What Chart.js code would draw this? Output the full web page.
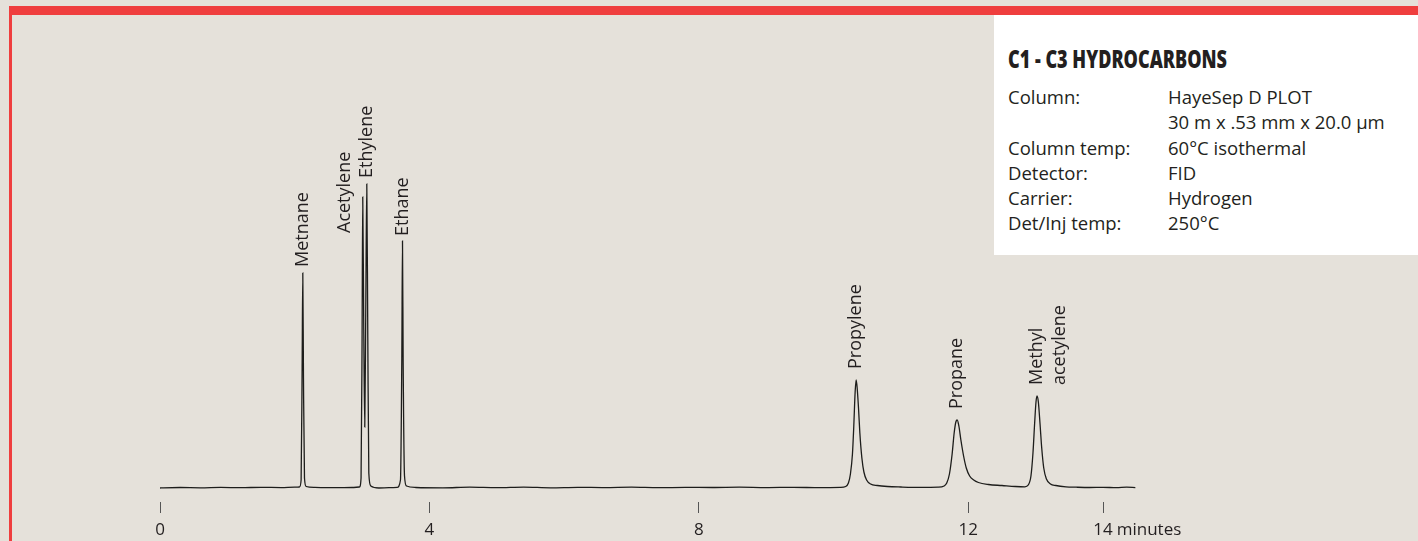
<!DOCTYPE html>
<html>
<head>
<meta charset="utf-8">
<script src="https://cdn.jsdelivr.net/npm/chart.js@4/dist/chart.umd.min.js"></script>
<style>
    html, body { margin: 0; padding: 0; width: 1418px; height: 541px; overflow: hidden; background: #e5e1da; }
    #topBar { position: absolute; left: 9px; top: 6px; width: 1409px; height: 9px; background: #ef3e3e; }
    #leftBar { position: absolute; left: 9px; top: 6px; width: 3px; height: 535px; background: #ef3e3e; }
    #chart { position: absolute; left: 0; top: 0; }
    #info { position: absolute; left: 994px; top: 15px; width: 424px; height: 240px; background: #fff;
            color: #231f20; font-family: 'Open Sans', 'Noto Sans', sans-serif; font-size: 18.5px; }
    #info h1 { position: absolute; left: 14px; top: 28px; margin: 0; font-size: 24px; font-weight: 800;
               line-height: 32px; white-space: nowrap; transform-origin: left center; }
    #rows { position: absolute; left: 0; top: 69px; }
    .row { position: relative; height: 25.3px; line-height: 25.3px; white-space: nowrap; }
    .row .k { position: absolute; left: 14px; }
    .row .v { position: absolute; left: 174px; }
</style>
</head>
<body>
<div id="topBar"></div>
<div id="leftBar"></div>
<canvas id="chart" width="1418" height="541"></canvas>
<div id="info">
    <h1 id="title"></h1>
    <div id="rows"></div>
</div>
<script>
// chromatogram trace (time in minutes, detector signal)
const times = [
    0.00, 0.05, 0.30, 0.60, 0.90, 1.20, 1.50, 1.80, 2.00,
    2.07, 2.095, 2.11, 2.12, 2.13, 2.145, 2.17, 2.30, 2.60, 2.85, 2.96,
    2.985, 3.00, 3.01, 3.025, 3.04, 3.055, 3.07, 3.085, 3.10, 3.13, 3.25, 3.40, 3.52,
    3.57, 3.59, 3.60, 3.61, 3.63, 3.66, 3.80, 4.20, 4.60, 5.00, 5.40, 5.80, 6.20, 6.60,
    7.00, 7.40, 7.80, 8.20, 8.60, 9.00, 9.40, 9.80, 10.10,
    10.18, 10.22, 10.25, 10.28, 10.30, 10.32, 10.335, 10.35, 10.37, 10.39, 10.42, 10.45,
    10.49, 10.55, 10.65, 10.80, 11.00, 11.30, 11.55,
    11.64, 11.68, 11.72, 11.76, 11.79, 11.815, 11.835, 11.86, 11.89, 11.93, 11.97, 12.02,
    12.08, 12.15, 12.30, 12.50, 12.70, 12.84,
    12.89, 12.93, 12.96, 12.985, 13.005, 13.02, 13.04, 13.065, 13.09, 13.12, 13.16, 13.22,
    13.30, 13.45, 13.60, 13.80, 14.00, 14.20, 14.35, 14.48
];
const signal = [
    0, 0.2, 0.5, 0.2, 0.6, 0.3, 0.7, 0.4, 0.8,
    1, 8, 120, 215, 110, 10, 1.5, 0.6, 0.3, 0.5, 1,
    10, 150, 291, 160, 61, 180, 304, 150, 15, 2, 0, 0.3, 0.6,
    8, 130, 247, 125, 12, 2, 0.5, 0.2, 0.8, 0.3, 0.9, 0.2, 0.7, 0.4,
    0.8, 0.3, 0.6, 0.5, 0.8, 0.4, 0.7, 0.3, 0.6,
    1.5, 5, 14, 34, 62, 96, 108, 100, 80, 55, 30, 16,
    8, 4, 2.5, 1.5, 1, 0.6, 0.8,
    2, 5, 14, 34, 55, 66, 68, 62, 48, 32, 20, 12,
    8, 5.5, 3.5, 2.5, 1.5, 1.2,
    3, 12, 35, 65, 86, 92, 86, 64, 40, 20, 9, 4,
    2.5, 1.2, 0.8, 0.5, 0.7, 0.3, 0.8, 0.4
];

// peaks
const peakNames = ['Metnane', 'Acetylene', 'Ethylene', 'Ethane', 'Propylene', 'Propane', ['Methyl', 'acetylene']];
const peakTimes = [2.12, 3.01, 3.07, 3.60, 10.335, 11.835, 13.02];
const peakHeights = [215, 291, 304, 247, 108, 68, 92];

// axis
const tickValues = [0, 4, 8, 12, 14];
const tickLabels = ['0', '4', '8', '12', '14'];
const axisUnit = 'minutes';

// info box
const titleText = 'C1 - C3 HYDROCARBONS';
const infoKeys = ['Column:', '', 'Column temp:', 'Detector:', 'Carrier:', 'Det/Inj temp:'];
const infoValues = ['HayeSep D PLOT', '30 m x .53 mm x 20.0 µm', '60°C isothermal', 'FID', 'Hydrogen', '250°C'];

const textColor = '#231f20';
const labelFont = '18px "Open Sans"';

// label placement tweaks (px): gap above the peak, and a manual nudge for crowded ones
const labelGap = [6, 6, 6, 5, 11, 11, 11];
const labelNudge = { 1: { dx: -18, dy: 42 } };

const peakLabels = {
    id: 'peakLabels',
    afterDatasetsDraw(chart) {
        const { ctx, scales: { x, y } } = chart;
        ctx.save();
        ctx.fillStyle = textColor;
        ctx.font = labelFont;
        ctx.textAlign = 'left';
        ctx.textBaseline = 'middle';
        peakNames.forEach((name, i) => {
            const nudge = labelNudge[i] || { dx: 0, dy: 0 };
            const px = x.getPixelForValue(peakTimes[i]) + nudge.dx;
            const py = y.getPixelForValue(peakHeights[i]) - labelGap[i] + nudge.dy;
            const lines = Array.isArray(name) ? name : [name];
            lines.forEach((line, j) => {
                ctx.save();
                ctx.translate(px + j * 22.5, py);
                ctx.rotate(-Math.PI / 2);
                ctx.fillText(line, 0, 0);
                ctx.restore();
            });
        });

        // unit after the last tick label
        const last = tickValues[tickValues.length - 1];
        ctx.font = '17px "Open Sans"';
        const w = ctx.measureText(tickLabels[tickLabels.length - 1]).width;
        ctx.fillText(axisUnit, x.getPixelForValue(last) + w / 2 + 4, 530);
        ctx.restore();
    }
};

function buildInfo() {
    const title = document.getElementById('title');
    title.textContent = titleText;
    const rows = document.getElementById('rows');
    infoKeys.forEach((k, i) => {
        const row = document.createElement('div');
        row.className = 'row';
        row.innerHTML = `<span class="k">${k}</span><span class="v">${infoValues[i]}</span>`;
        rows.appendChild(row);
    });
    // condensed heading: squeeze to the width in the original
    const w = title.getBoundingClientRect().width;
    title.style.transform = `scaleX(${219 / w})`;
}

function drawChart() {
    const ctx = document.getElementById('chart').getContext('2d');
    new Chart(ctx, {
        type: 'line',
        data: {
            datasets: [{
                data: times.map((t, i) => ({ x: t, y: signal[i] })),
                borderColor: '#1d1d1b',
                borderWidth: 1.3,
                pointRadius: 0,
                cubicInterpolationMode: 'monotone',
                fill: false
            }]
        },
        options: {
            responsive: false,
            animation: false,
            layout: { padding: { left: 160, right: 281.3, top: 20, bottom: 0 } },
            plugins: { legend: { display: false }, tooltip: { enabled: false } },
            scales: {
                x: {
                    type: 'linear',
                    min: 0,
                    max: 14.5,
                    afterBuildTicks: s => { s.ticks = tickValues.map(v => ({ value: v })); },
                    afterFit: s => { s.height = 39; },
                    border: { display: false },
                    grid: { drawOnChartArea: false, drawTicks: true, tickLength: 11, color: '#555', lineWidth: 1 },
                    ticks: {
                        padding: 7,
                        color: textColor,
                        font: { family: 'Open Sans', size: 17 },
                        maxRotation: 0,
                        autoSkip: false,
                        callback: (v, i) => tickLabels[i]
                    }
                },
                y: { display: false, min: -14, max: 468 }
            }
        },
        plugins: [peakLabels]
    });
}

document.addEventListener('DOMContentLoaded', () => {
    document.fonts.load(labelFont).then(() => {
        buildInfo();
        drawChart();
    });
});
</script>
</body>
</html>
